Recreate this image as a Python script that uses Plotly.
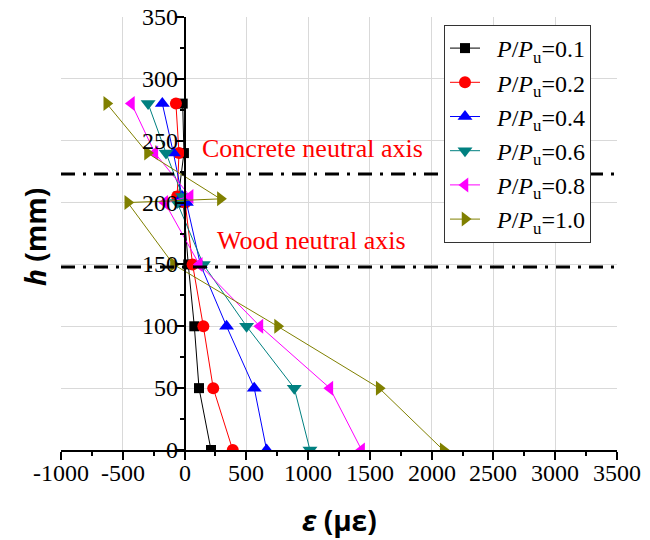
import plotly.graph_objects as go

# Heights (mm) of strain gauges
h_vals = [280, 240, 205, 200, 150, 100, 50, 0]
h_vals_10 = [280, 240, 203, 200, 150, 100, 50, 0]

# Strain (micro-strain) for each load level
eps_01 = [-15, -5, -50, -10, 30, 79, 117, 214]
eps_02 = [-70, -45, -60, 5, 65, 152, 232, 390]
eps_04 = [-180, -90, -20, 15, 128, 340, 564, 664]
eps_06 = [-295, -150, -15, -60, 152, 502, 888, 1015]
eps_08 = [-430, -240, 45, -160, 119, 610, 1176, 1433]
eps_10 = [-630, -300, 290, -460, -90, 753, 1575, 2093]

series_names = ["0.1", "0.2", "0.4", "0.6", "0.8", "1.0"]
series_eps = [eps_01, eps_02, eps_04, eps_06, eps_08, eps_10]
series_h = [h_vals, h_vals, h_vals, h_vals, h_vals, h_vals_10]
colors = ["#000000", "#FF0000", "#0000FF", "#008080", "#FF00FF", "#808000"]
symbols = ["square", "circle", "triangle-up", "triangle-down", "triangle-left", "triangle-right"]
msizes = [10, 12, 13, 13, 13, 13]

concrete_na = 223
wood_na = 148

x_range = [-1000, 3500]
y_range = [0, 350]
x_ticks = [-1000, -500, 0, 500, 1000, 1500, 2000, 2500, 3000, 3500]
x_tick_labels = ["-1000", "-500", "0", "500", "1000", "1500", "2000", "2500", "3000", "3500"]
y_ticks = [0, 50, 100, 150, 200, 250, 300, 350]
y_tick_labels = ["0", "50", "100", "150", "200", "250", "300", "350"]

SERIF = "Liberation Serif"

# page body has an 8px margin: plot area in screenshot = x 61..617, y 17..450
OFF = 8
L, T, PW, PH = 61 - OFF, 17 - OFF, 556, 433

fig = go.Figure()
for name, e, h, c, s, ms in zip(series_names, series_eps, series_h, colors, symbols, msizes):
    fig.add_trace(go.Scatter(
        x=e, y=h, mode="lines+markers",
        name=f"&nbsp;&nbsp;<i>P</i>/<i>P</i><sub>u</sub>={name}",
        line=dict(color=c, width=1),
        marker=dict(symbol=s, size=ms, color=c, line=dict(width=0)),
    ))

for hv in [concrete_na, wood_na]:
    fig.add_shape(type="line", xref="x", yref="y", x0=x_range[0], x1=x_range[1],
                  y0=hv, y1=hv, line=dict(color="black", width=3, dash="14px,8px,3px,8px"))

fig.add_annotation(x=125, y=244, xref="x", yref="y", text="Concrete neutral axis",
                   showarrow=False, xanchor="left", yanchor="middle",
                   font=dict(family=SERIF, size=26, color="#FF0000"))
fig.add_annotation(x=246, y=169, xref="x", yref="y", text="Wood neutral axis",
                   showarrow=False, xanchor="left", yanchor="middle",
                   font=dict(family=SERIF, size=26, color="#FF0000"))

# tick labels (serif), positioned through the axis scales
for v, t in zip(x_ticks, x_tick_labels):
    fig.add_annotation(x=v, y=y_range[0], xref="x", yref="y", text=t, showarrow=False,
                       xanchor="center", yanchor="middle", yshift=-23,
                       font=dict(family=SERIF, size=24, color="black"))
for v, t in zip(y_ticks, y_tick_labels):
    fig.add_annotation(x=0, y=v, xref="x", yref="y", text=t, showarrow=False,
                       xanchor="right", yanchor="middle", xshift=-5,
                       font=dict(family=SERIF, size=24, color="black"))

# axis titles (placed in paper coordinates relative to the plot area)
fig.add_annotation(x=(35 - 61) / PW, y=(450 - 237) / PH, xref="paper", yref="paper",
                   text="<b><i>h</i> (mm)</b>",
                   showarrow=False, textangle=-90, xanchor="center", yanchor="middle",
                   font=dict(family="Open Sans", size=28, color="black"))
fig.add_annotation(x=0.5, y=-(70 / PH), xref="paper", yref="paper",
                   text="<b><i>ε</i> (με)</b>",
                   showarrow=False, xanchor="center", yanchor="middle",
                   font=dict(family="Open Sans", size=28, color="black"))

fig.update_layout(
    width=650, height=540,
    margin=dict(l=L, r=650 - L - PW, t=T, b=540 - T - PH, autoexpand=False),
    paper_bgcolor="white", plot_bgcolor="white",
    font=dict(family=SERIF, size=24, color="black"),
    showlegend=True,
    legend=dict(x=(444 - 61) / PW, y=(450 - 25) / PH, xanchor="left", yanchor="top",
                bgcolor="white", bordercolor="#333333", borderwidth=1,
                font=dict(family=SERIF, size=24, color="black"),
                tracegroupgap=0),
    xaxis=dict(range=x_range, domain=[0, 1], tickvals=x_ticks, showticklabels=False,
               ticks="outside", automargin=False,
               ticklen=8, tickwidth=1.5, tickcolor="black", showline=True,
               linecolor="black", linewidth=2, showgrid=True, gridcolor="#d9d9d9",
               gridwidth=1, zeroline=False,
               minor=dict(dtick=250, tick0=0, ticks="outside", ticklen=4,
                          tickcolor="black", tickwidth=1.5, showgrid=False)),
    yaxis=dict(range=y_range, tickvals=y_ticks, showticklabels=False,
               anchor="free", position=1000 / 4500, automargin=False,
               ticks="outside", ticklen=8, tickwidth=1.5, tickcolor="black",
               showline=True, linecolor="black", linewidth=2, showgrid=True,
               gridcolor="#d9d9d9", gridwidth=1, zeroline=False,
               minor=dict(dtick=25, tick0=0, ticks="outside", ticklen=4,
                          tickcolor="black", tickwidth=1.5, showgrid=False)),
)

fig.write_html("out.html")
